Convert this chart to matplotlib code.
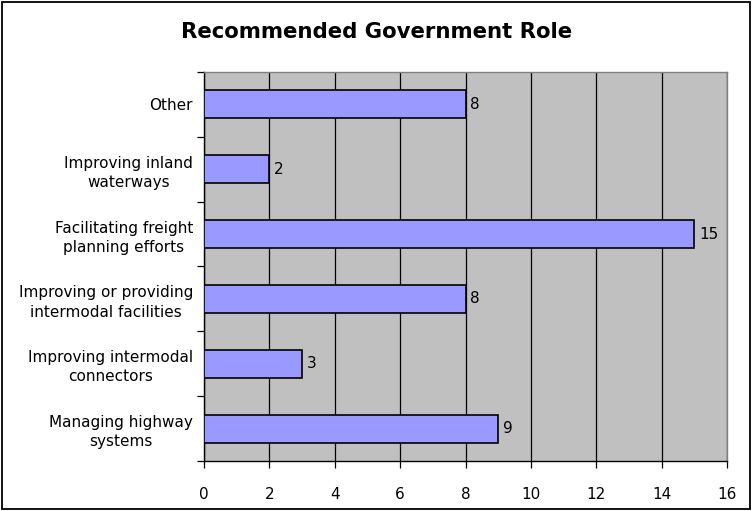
import matplotlib
matplotlib.use("Agg")
import matplotlib.pyplot as plt
from matplotlib.patches import Rectangle

categories = [
    "Managing highway\nsystems",
    "Improving intermodal\nconnectors",
    "Improving or providing\nintermodal facilities",
    "Facilitating freight\nplanning efforts",
    "Improving inland\nwaterways",
    "Other",
]
values = [9, 3, 8, 15, 2, 8]
x_ticks = [0, 2, 4, 6, 8, 10, 12, 14, 16]

plt.rcParams["font.family"] = ["DejaVu Sans"]

fig = plt.figure(figsize=(7.52, 5.11), dpi=100)
W, H = 752, 511
ax = fig.add_axes([204 / W, 1 - 461 / H, (727 - 204) / W, (461 - 72) / H])

ax.set_facecolor("#C0C0C0")
pos = list(range(len(categories)))
ax.barh(pos, values, height=0.43, color="#9999FF", edgecolor="black",
        linewidth=1.2, zorder=3)

for p, v in zip(pos, values):
    ax.text(v + 0.15, p, str(v), va="center", ha="left", fontsize=11, zorder=4)

ax.set_xlim(0, 16)
ax.set_ylim(-0.5, len(categories) - 0.5)
ax.set_xticks(x_ticks)
ax.set_xticklabels([str(t) for t in x_ticks], fontsize=11)
ax.xaxis.grid(True, color="black", linewidth=0.9, zorder=1)
ax.set_axisbelow(True)

# category labels centred in each band, ticks on the band boundaries
ax.set_yticks(pos)
ax.set_yticklabels(categories, fontsize=11, multialignment="center",
                   linespacing=1.35)
ax.tick_params(axis="y", length=0, pad=8)
ax.set_yticks([p - 0.5 for p in pos] + [len(categories) - 0.5], minor=True)
ax.tick_params(axis="y", which="minor", length=5, width=0.9, direction="out")
ax.tick_params(axis="x", length=5, width=0.9, direction="out", pad=14)

for s in ("left", "bottom"):
    ax.spines[s].set_color("black")
    ax.spines[s].set_linewidth(1.0)
for s in ("top", "right"):
    ax.spines[s].set_color("#808080")
    ax.spines[s].set_linewidth(1.0)

fig.text(377 / W, 1 - 32 / H, "Recommended Government Role", ha="center",
         va="center", fontsize=15.3, fontweight="bold")

fig.patches.append(Rectangle((2 / W, 2 / H), 748 / W, 507 / H,
                             transform=fig.transFigure, fill=False,
                             edgecolor="black", linewidth=1.3))

fig.savefig("out.png", dpi=100, facecolor="white")
